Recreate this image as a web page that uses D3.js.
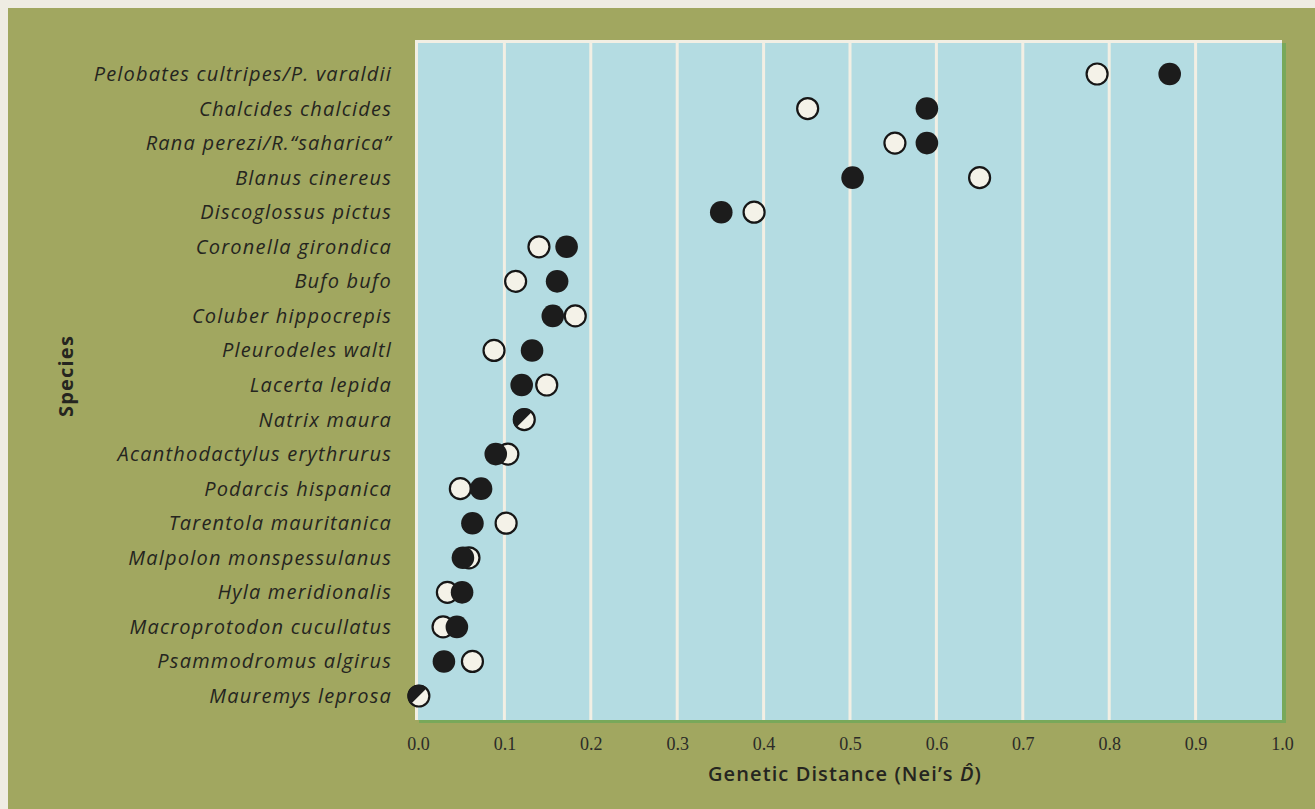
<!DOCTYPE html>
<html>
<head>
<meta charset="utf-8">
<script src="https://cdn.jsdelivr.net/npm/d3@7"></script>
<style>
  html, body { margin: 0; padding: 0; background: #efece3; }
  svg { display: block; }
</style>
</head>
<body>
<svg id="chart" width="1315" height="809"></svg>
<script>
// Species, top to bottom
const species = [
  "Pelobates cultripes/P. varaldii",
  "Chalcides chalcides",
  "Rana perezi/R.\u201Csaharica\u201D",
  "Blanus cinereus",
  "Discoglossus pictus",
  "Coronella girondica",
  "Bufo bufo",
  "Coluber hippocrepis",
  "Pleurodeles waltl",
  "Lacerta lepida",
  "Natrix maura",
  "Acanthodactylus erythrurus",
  "Podarcis hispanica",
  "Tarentola mauritanica",
  "Malpolon monspessulanus",
  "Hyla meridionalis",
  "Macroprotodon cucullatus",
  "Psammodromus algirus",
  "Mauremys leprosa"
];

// Nei's D, filled markers
const filledD = [0.870, 0.589, 0.589, 0.503, 0.351, 0.172, 0.161, 0.156, 0.132, 0.120,
                 0.123, 0.090, 0.073, 0.063, 0.052, 0.051, 0.045, 0.030, 0.001];
// Nei's D, open markers
const openD   = [0.786, 0.451, 0.552, 0.650, 0.389, 0.140, 0.113, 0.182, 0.088, 0.149,
                 0.123, 0.104, 0.049, 0.102, 0.059, 0.034, 0.029, 0.063, 0.001];

const tickValues = [0.0, 0.1, 0.2, 0.3, 0.4, 0.5, 0.6, 0.7, 0.8, 0.9, 1.0];

const svg = d3.select("#chart");
const W = 1315, H = 809;

// outer olive panel with light margin on top/left
svg.append("rect").attr("x", 0).attr("y", 0).attr("width", W).attr("height", H).attr("fill", "#efece3");
svg.append("rect").attr("x", 8).attr("y", 8).attr("width", W - 8).attr("height", H - 8).attr("fill", "#a1a760");

const plot = { left: 418, right: 1282, top: 40, bottom: 720 };

const x = d3.scaleLinear().domain([0, 1]).range([plot.left, plot.right]);
const y = d3.scalePoint().domain(species).range([74, 696]);

// plot background
svg.append("rect")
  .attr("x", plot.left + 1).attr("y", plot.top + 3)
  .attr("width", plot.right - plot.left + 3).attr("height", plot.bottom - plot.top)
  .attr("fill", "#78a85a");
svg.append("rect")
  .attr("x", plot.left - 3).attr("y", plot.top)
  .attr("width", plot.right - plot.left + 3).attr("height", plot.bottom - plot.top)
  .attr("fill", "#f2efe4");
svg.append("rect")
  .attr("x", plot.left).attr("y", plot.top + 3)
  .attr("width", plot.right - plot.left).attr("height", plot.bottom - plot.top - 3)
  .attr("fill", "#b4dce2");

// vertical grid lines
svg.append("g").selectAll("line")
  .data(tickValues.filter(v => v > 0 && v < 1))
  .join("line")
  .attr("x1", d => x(d)).attr("x2", d => x(d))
  .attr("y1", plot.top).attr("y2", plot.bottom)
  .attr("stroke", "#f2efe4").attr("stroke-width", 3);

// x axis tick labels
const xAxis = d3.axisBottom(x).tickValues(tickValues).tickFormat(d3.format(".1f")).tickSize(0).tickPadding(0);
const gx = svg.append("g").attr("transform", `translate(0, ${plot.bottom + 17})`).call(xAxis);
gx.select(".domain").remove();
gx.selectAll("text")
  .attr("font-family", "'Liberation Serif', serif")
  .attr("font-size", 18)
  .attr("fill", "#2b2b28")
  .attr("dy", "0.71em");

// species labels
svg.append("g").selectAll("text")
  .data(species)
  .join("text")
  .attr("x", 392)
  .attr("y", d => y(d))
  .attr("dy", "0.35em")
  .attr("text-anchor", "end")
  .attr("font-family", "'Open Sans', sans-serif")
  .attr("font-style", "italic")
  .attr("font-size", 20)
  .attr("letter-spacing", 1.2)
  .attr("fill", "#25251f")
  .text(d => d);

// axis titles
const title = svg.append("text")
  .attr("x", 845).attr("y", 781)
  .attr("text-anchor", "middle")
  .attr("font-family", "'Open Sans', sans-serif")
  .attr("font-weight", 600)
  .attr("font-size", 20)
  .attr("letter-spacing", 1.1)
  .attr("fill", "#25251f");
title.append("tspan").text("Genetic Distance (Nei\u2019s ");
title.append("tspan").attr("font-style", "italic").text("D\u0302");
title.append("tspan").text(")");

svg.append("text")
  .attr("transform", "translate(73, 376) rotate(-90)")
  .attr("text-anchor", "middle")
  .attr("font-family", "'Open Sans', sans-serif")
  .attr("font-weight", "bold")
  .attr("font-size", 20)
  .attr("letter-spacing", 1.2)
  .attr("fill", "#25251f")
  .text("Species");

// markers
const R = 10.5;
const rows = species.map((s, i) => ({ s, f: filledD[i], o: openD[i] }));
const same = d => d.f === d.o;

const marks = svg.append("g");

// open circles below filled ones
marks.selectAll("circle.open")
  .data(rows.filter(d => !same(d)))
  .join("circle")
  .attr("class", "open")
  .attr("cx", d => x(d.o)).attr("cy", d => y(d.s)).attr("r", R)
  .attr("fill", "#f4f2e8").attr("stroke", "#161616").attr("stroke-width", 2.2);

marks.selectAll("circle.filled")
  .data(rows.filter(d => !same(d)))
  .join("circle")
  .attr("class", "filled")
  .attr("cx", d => x(d.f)).attr("cy", d => y(d.s)).attr("r", R + 0.8)
  .attr("fill", "#1c1c1c");

// coincident values: half-filled marker split diagonally
const halves = marks.selectAll("g.half")
  .data(rows.filter(same))
  .join("g")
  .attr("class", "half")
  .attr("transform", d => `translate(${x(d.f)}, ${y(d.s)})`);
halves.append("circle").attr("r", R)
  .attr("fill", "#f4f2e8").attr("stroke", "#161616").attr("stroke-width", 2.2);
const k = (R + 0.8) / Math.SQRT2;
halves.append("path")
  .attr("d", `M${k},${-k} A${R + 0.8},${R + 0.8} 0 0 0 ${-k},${k} Z`)
  .attr("fill", "#1c1c1c");
</script>
</body>
</html>
